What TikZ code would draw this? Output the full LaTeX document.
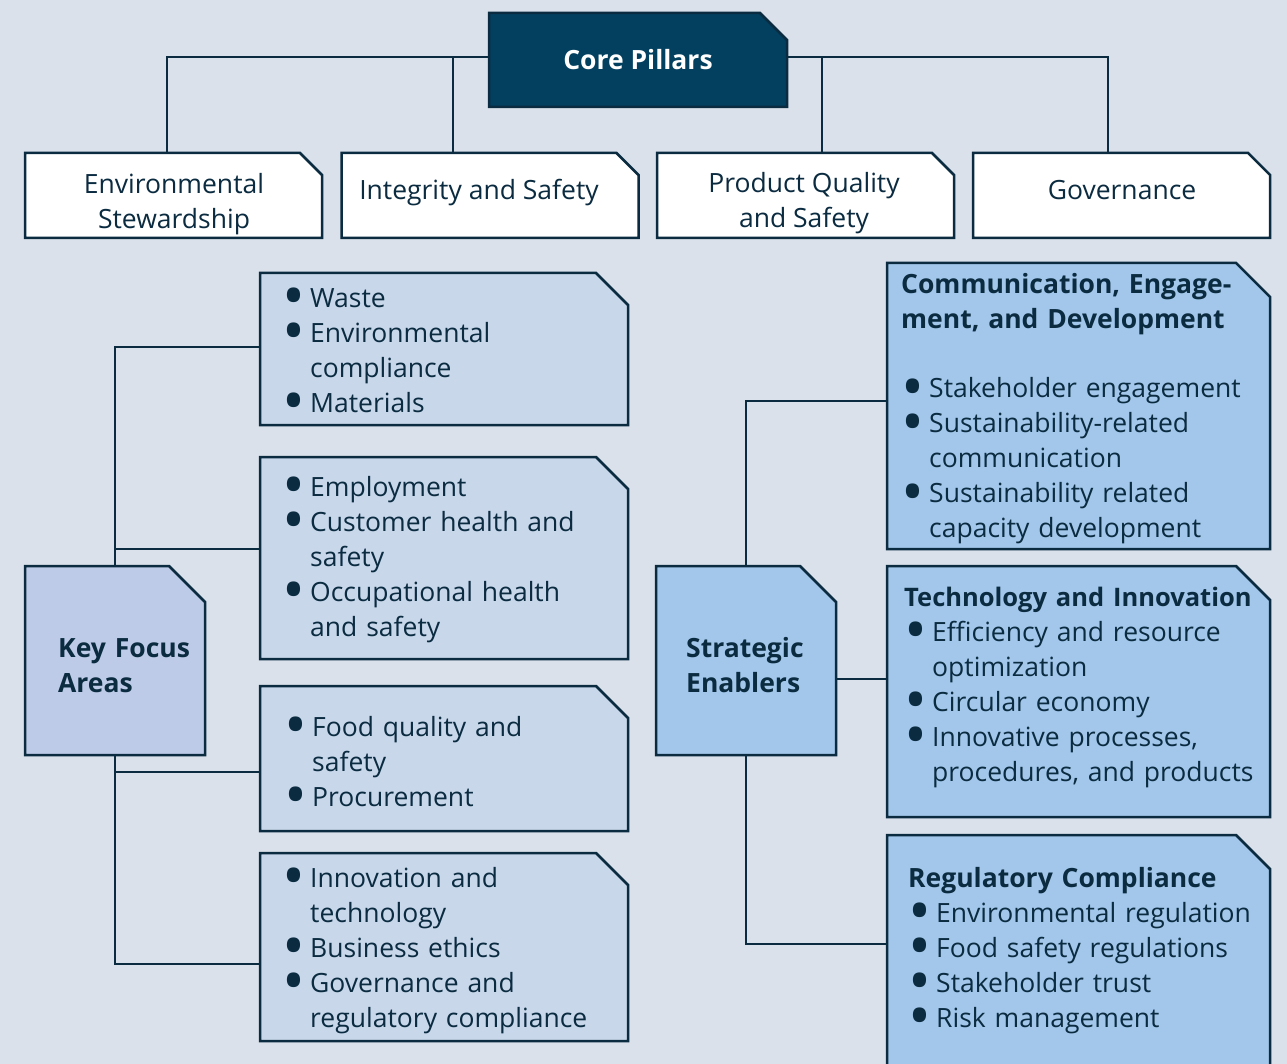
\documentclass[tikz,border=0pt]{standalone}
\usepackage{fontspec}
\setmainfont{Open Sans}
\usetikzlibrary{backgrounds, positioning}

\definecolor{bgcol}{HTML}{DAE1EA}
\definecolor{navy}{HTML}{0B2B40}
\definecolor{corecol}{HTML}{03405F}
\definecolor{keycol}{HTML}{BDCBE8}
\definecolor{listcol}{HTML}{C8D7EA}
\definecolor{stratcol}{HTML}{A2C7EA}

\newcommand{\bodyfont}{\fontsize{26.5}{35}\selectfont}
\newcommand{\bdot}{\makebox[28pt][l]{\smash{\raisebox{-0.38em}{\scalebox{2.3}{\textbullet}}}}}
\newcommand{\bitem}[1]{\hangindent=28pt\hangafter=1\noindent\bdot#1\par}
% outline with the cut top-right corner: node name, cut size, fill
\newcommand{\cutshape}[3]{\draw[draw=navy, fill=#3, line width=2.5pt]
  (#1.north west) -- ([xshift=-#2]#1.north east) -- ([yshift=-#2]#1.north east)
  -- (#1.south east) -- (#1.south west) -- cycle;}

\tikzset{
  box/.style={rectangle, inner sep=0pt, outer sep=0pt},
  pillar/.style={box, minimum width=297pt, minimum height=85pt},
  listbox/.style={box, minimum width=368pt},
  rbox/.style={box, minimum width=383pt},
  ptxt/.style={align=center, inner sep=0pt, text=navy},
  lst/.style={anchor=base west, inner sep=0pt, text width=370pt, align=left, text=navy},
  conn/.style={draw=navy, line width=2pt},
}

\begin{document}
\begin{tikzpicture}[x=1pt, y=-1pt, font=\bodyfont]
    \useasboundingbox (0,0) rectangle (1287,1064);

    \node[box, minimum width=298pt, minimum height=94pt] (core) at (638,60) {};
    \cutshape{core}{27pt}{corecol}
    \node[ptxt, text=white, font=\bodyfont\bfseries] (coretxt) at (638,60) {Core Pillars};

    \node[pillar] (env) at (173.5,195.5) {};
    \cutshape{env}{22pt}{white}
    \node[ptxt] (envtxt) at (174,204) {Environmental\\Stewardship};
    \node[pillar] (integ) at (490,195.5) {};
    \cutshape{integ}{22pt}{white}
    \node[ptxt] (integtxt) at (479,193) {Integrity and Safety};
    \node[pillar] (prod) at (805.5,195.5) {};
    \cutshape{prod}{22pt}{white}
    \node[ptxt] (prodtxt) at (804,203) {Product Quality\\and Safety};
    \node[pillar] (gov) at (1121.5,195.5) {};
    \cutshape{gov}{22pt}{white}
    \node[ptxt] (govtxt) at (1122,190) {Governance};

    % key focus areas
    \node[box, minimum width=180pt, minimum height=189pt] (key) at (115,660.5) {};
    \cutshape{key}{36pt}{keycol}
    \node[lst, text width=150pt, font=\bodyfont\bfseries] (keytxt) at (58,657) {Key Focus\\Areas};

    \node[listbox, minimum height=152pt] (la) at (444,349) {};
    \cutshape{la}{32pt}{listcol}
    \node[lst] (latxt) at (282,307.5) {\bitem{Waste}\bitem{Environmental\newline compliance}\bitem{Materials}};
    \node[listbox, minimum height=202pt] (lb) at (444,558) {};
    \cutshape{lb}{32pt}{listcol}
    \node[lst] (lbtxt) at (282,496.5) {\bitem{Employment}\bitem{Customer health and\newline safety}\bitem{Occupational health\newline and safety}};
    \node[listbox, minimum height=145pt] (lc) at (444,758.5) {};
    \cutshape{lc}{32pt}{listcol}
    \node[lst] (lctxt) at (284,736.5) {\bitem{Food quality and\newline safety}\bitem{Procurement}};
    \node[listbox, minimum height=188pt] (ld) at (444,947) {};
    \cutshape{ld}{32pt}{listcol}
    \node[lst] (ldtxt) at (282,887.5) {\bitem{Innovation and\newline technology}\bitem{Business ethics}\bitem{Governance and\newline regulatory compliance}};

    % strategic enablers
    \node[box, minimum width=180pt, minimum height=189pt] (strat) at (746,660.5) {};
    \cutshape{strat}{36pt}{stratcol}
    \node[lst, text width=150pt, font=\bodyfont\bfseries] (strattxt) at (686,657) {Strategic\\Enablers};

    \node[rbox, minimum height=286pt] (ra) at (1078.5,406) {};
    \cutshape{ra}{34pt}{stratcol}
    \node[lst] (ratxt) at (901,294) {\textbf{Communication, Engage-\newline ment, and Development}\par\vskip 34pt
      \bitem{Stakeholder engagement}\bitem{Sustainability-related\newline communication}\bitem{Sustainability related\newline capacity development}};
    \node[rbox, minimum height=251pt] (rb) at (1078.5,691.5) {};
    \cutshape{rb}{34pt}{stratcol}
    \node[lst] (rbtxt) at (904,606) {{\fontsize{25.5}{35}\selectfont\bfseries Technology and Innovation}\par
      \bitem{Efficiency and resource\newline optimization}\bitem{Circular economy}\bitem{Innovative processes,\newline procedures, and products}};
    \node[rbox, minimum height=250pt] (rc) at (1078.5,960) {};
    \cutshape{rc}{34pt}{stratcol}
    \node[lst] (rctxt) at (908,887) {\textbf{Regulatory Compliance}\par
      \bitem{Environmental regulation}\bitem{Food safety regulations}\bitem{Stakeholder trust}\bitem{Risk management}};

    \begin{scope}[on background layer]
    \fill[bgcol] (0,0) rectangle (1287,1064);
    \draw[conn] ([yshift=3pt]core.west) -| ([xshift=-6.5pt]env.north);
    \draw[conn] ([yshift=3pt]core.west) -| ([xshift=-37pt]integ.north);
    \draw[conn] ([yshift=3pt]core.east) -| ([xshift=16.5pt]prod.north);
    \draw[conn] ([yshift=3pt]core.east) -| ([xshift=-13.5pt]gov.north);
    \draw[conn] ([yshift=2pt]la.west) -| (key.north);
    \draw[conn] ([yshift=9pt]lb.west) -| (key.north);
    \draw[conn] ([yshift=-13.5pt]lc.west) -| (key.south);
    \draw[conn] ([yshift=-17pt]ld.west) -| (key.south);
    \draw[conn] ([yshift=5pt]ra.west) -| (strat.north);
    \draw[conn] ([yshift=-18.5pt]strat.east) -- ([yshift=-18.5pt]strat.east -| rb.west);
    \draw[conn] ([yshift=16pt]rc.west) -| (strat.south);
    \end{scope}
\end{tikzpicture}
\end{document}
